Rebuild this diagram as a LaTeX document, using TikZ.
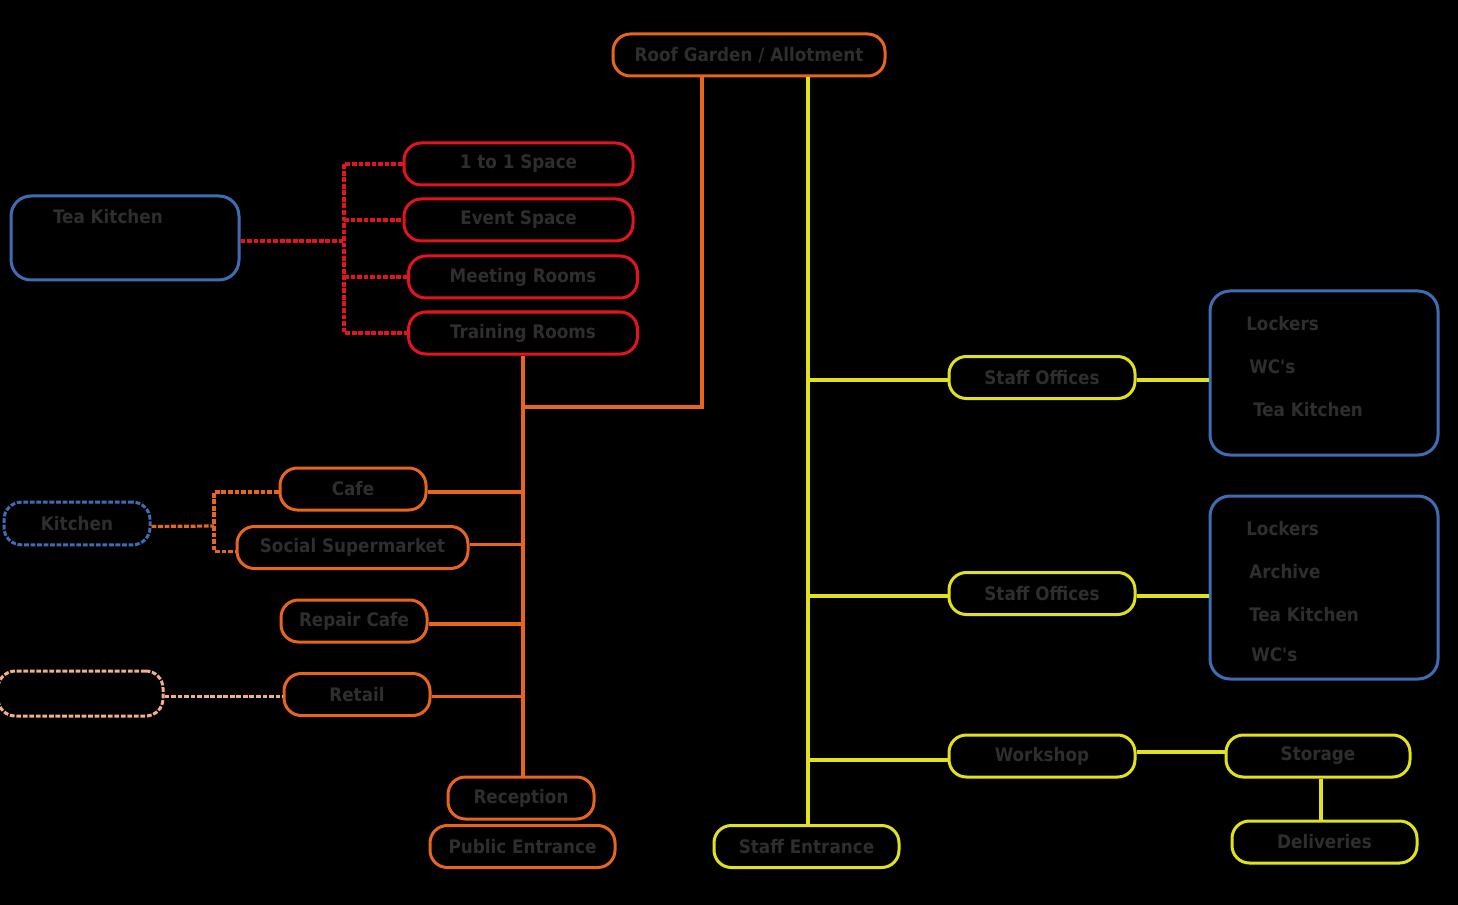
\documentclass[tikz,border=0pt]{standalone}
\usepackage{fontspec}
\newfontfamily\txtfont{DejaVu Sans Condensed}[BoldFont={DejaVu Sans Condensed Bold}]
\definecolor{bg}{HTML}{000000}
\definecolor{txt}{HTML}{2E2E2E}
\definecolor{cor}{HTML}{E8651E}
\definecolor{cred}{HTML}{E3141D}
\definecolor{cyel}{HTML}{E2E21C}
\definecolor{cblu}{HTML}{3F6DB5}
\definecolor{cpch}{HTML}{F2B08A}
\tikzset{
  pill/.style={draw, line width=2.25pt, rounded corners=13pt, inner sep=0pt,
    minimum height=31.5pt, font=\txtfont\bfseries\fontsize{14}{16}\selectfont, text=txt},
  lbl/.style={inner sep=0pt, font=\txtfont\bfseries\fontsize{14}{16}\selectfont, text=txt},
  bigbox/.style={draw=cblu, line width=2.25pt, rounded corners=15pt, inner sep=0pt},
  link/.style={line width=2.4pt},
  dots/.style={line width=2.4pt, dash pattern=on 3.6pt off 1.3pt},
}
\begin{document}
\begin{tikzpicture}[x=0.75pt,y=-0.75pt]
\fill[bg] (0,0) rectangle (1458,905);
\useasboundingbox (0,0) rectangle (1458,905);

% top
\node[pill, draw=cor, minimum width=204pt] (roof) at (749,55) {Roof Garden / Allotment};

% red group
\node[pill, draw=cred, minimum width=171.75pt] (one) at (518.5,164) {1 to 1 Space};
\node[pill, draw=cred, minimum width=171.75pt] (event) at (518.5,220) {Event Space};
\node[pill, draw=cred, minimum width=171.75pt] (meet) at (523,277) {Meeting Rooms};
\node[pill, draw=cred, minimum width=171.75pt] (train) at (523,333) {Training Rooms};

\node[bigbox, minimum width=171pt, minimum height=63pt] (tk) at (125,238) {};
\node[lbl] (tktxt) at (108,217) {Tea Kitchen};

\coordinate (rj) at (344,241);
\draw[dots, cred] (tk.east |- rj) -- (rj);
\draw[dots, cred] (one.west) -| (rj) |- (train.west);
\draw[dots, cred] (rj |- event.west) -- (event.west);
\draw[dots, cred] (rj |- meet.west) -- (meet.west);

% orange group
\node[pill, draw=cor, minimum width=109.5pt] (cafe) at (353,489) {Cafe};
\node[pill, draw=cor, minimum width=173.25pt] (super) at (352.5,547.5) {Social Supermarket};
\node[pill, draw=cor, minimum width=109.5pt] (repair) at (354,621) {Repair Cafe};
\node[pill, draw=cor, minimum width=109.5pt] (retail) at (357,694.5) {Retail};
\node[pill, draw=cor, minimum width=109.5pt] (recep) at (521,798) {Reception};
\node[pill, draw=cor, minimum width=138.75pt] (pub) at (522.5,846.5) {Public Entrance};

\node[pill, draw=cblu, dash pattern=on 3.6pt off 1.3pt, minimum width=109.5pt, minimum height=32pt] (kit) at (77,523.5) {Kitchen};
\node[pill, draw=cpch, dash pattern=on 3.6pt off 1.3pt, minimum width=123.75pt, minimum height=33.75pt] (peach) at (80.5,693.5) {};

\coordinate (ot) at (523,407);
\coordinate (oj) at (702,407);
\draw[link, cor] (train.south) -- (train.south |- recep.north);
\draw[link, cor] (roof.south -| oj) -- (oj) -- (ot);
\draw[link, cor] ([yshift=-2.25pt]cafe.east) -- ([yshift=-2.25pt]cafe.east -| ot);
\draw[link, cor] ([yshift=2.25pt]super.east) -- ([yshift=2.25pt]super.east -| ot);
\draw[link, cor] ([yshift=-2.25pt]repair.east) -- ([yshift=-2.25pt]repair.east -| ot);
\draw[link, cor] ([yshift=-1.5pt]retail.east) -- ([yshift=-1.5pt]retail.east -| ot);

\coordinate (kj) at (214,526);
\draw[dots, cor] ([yshift=-2.25pt]kit.east) -- (kj);
\draw[dots, cor] ([yshift=-2.25pt]cafe.west) -| (kj);
\draw[dots, cor] (kj) |- ([yshift=-2.7pt]super.west);
\draw[dots, cpch] ([yshift=-2.25pt]peach.east) -- ([yshift=-2.25pt]peach.east -| retail.west);

% yellow group
\node[pill, draw=cyel, minimum width=139.5pt] (so1) at (1042,377.5) {Staff Offices};
\node[pill, draw=cyel, minimum width=139.5pt] (so2) at (1042,593.5) {Staff Offices};
\node[pill, draw=cyel, minimum width=139.5pt] (work) at (1042,756) {Workshop};
\node[pill, draw=cyel, minimum width=138pt] (store) at (1318,756) {Storage};
\node[pill, draw=cyel, minimum width=138.75pt] (deliv) at (1324.5,842) {Deliveries};
\node[pill, draw=cyel, minimum width=138.75pt] (staffent) at (806.5,846.5) {Staff Entrance};

\node[bigbox, minimum width=171pt, minimum height=123pt] (bb1) at (1324,373) {};
\node[lbl, anchor=west] (b1a) at (1246,324) {Lockers};
\node[lbl, anchor=west] (b1b) at (1249,367) {WC's};
\node[lbl, anchor=west] (b1c) at (1253,410) {Tea Kitchen};

\node[bigbox, minimum width=171pt, minimum height=137.25pt] (bb2) at (1324,587.5) {};
\node[lbl, anchor=west] (b2a) at (1246,529) {Lockers};
\node[lbl, anchor=west] (b2b) at (1249,572) {Archive};
\node[lbl, anchor=west] (b2c) at (1249,615) {Tea Kitchen};
\node[lbl, anchor=west] (b2d) at (1251,655) {WC's};

\coordinate (yt) at (808,77);
\draw[link, cyel] (roof.south -| yt) -- (staffent.north -| yt);
\draw[link, cyel] ([yshift=-1.9pt]so1.west -| yt) -- ([yshift=-1.9pt]so1.west);
\draw[link, cyel] ([yshift=-1.9pt]so1.east) -- ([yshift=-1.9pt]so1.east -| bb1.west);
\draw[link, cyel] ([yshift=-1.9pt]so2.west -| yt) -- ([yshift=-1.9pt]so2.west);
\draw[link, cyel] ([yshift=-1.9pt]so2.east) -- ([yshift=-1.9pt]so2.east -| bb2.west);
\draw[link, cyel] ([yshift=-3pt]work.west -| yt) -- ([yshift=-3pt]work.west);
\draw[link, cyel] ([yshift=3pt]work.east) -- ([yshift=3pt]store.west);
\draw[link, cyel] (store.south -| 1321,0) -- (deliv.north -| 1321,0);
\end{tikzpicture}
\end{document}
